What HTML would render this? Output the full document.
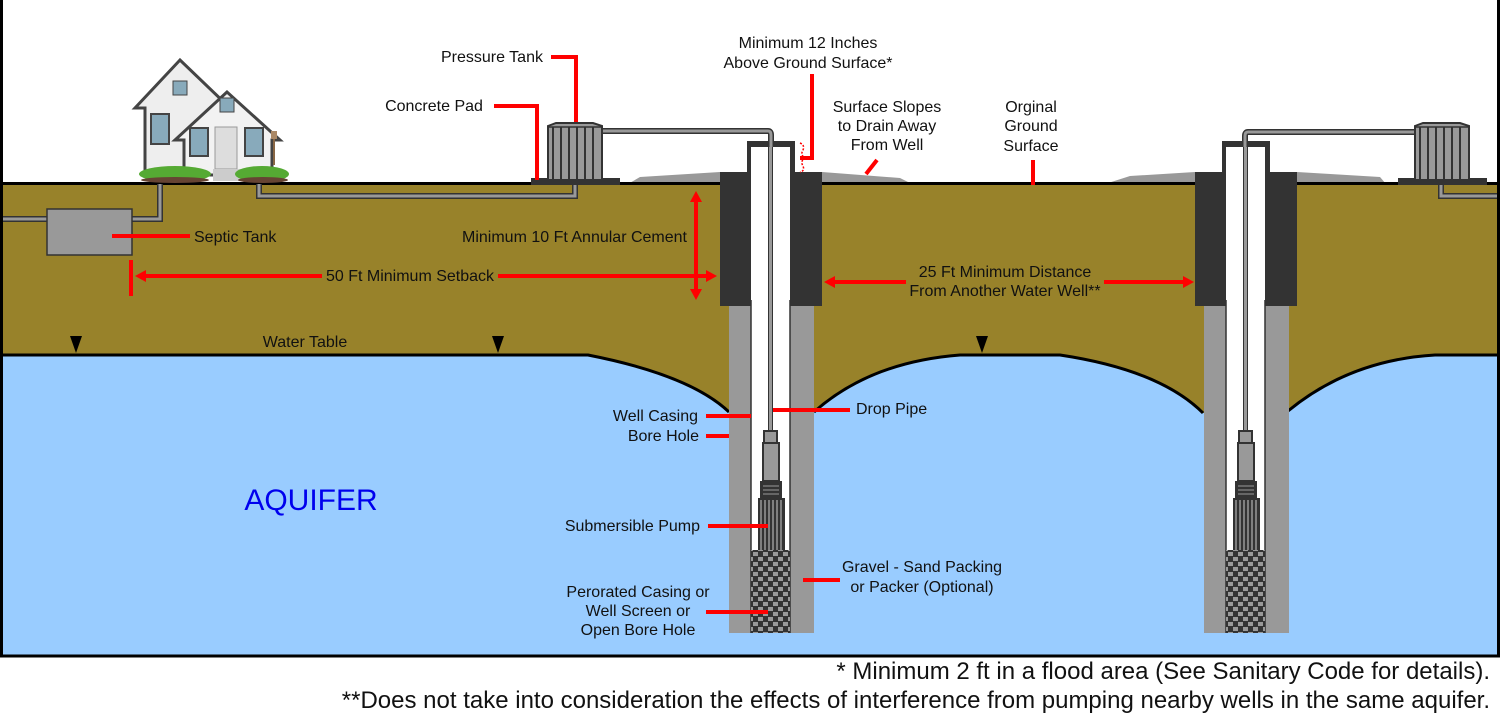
<!DOCTYPE html>
<html><head><meta charset="utf-8"><style>
html,body{margin:0;padding:0;background:#fff}
svg{display:block}
text{font-family:"Liberation Sans",Arial,sans-serif;fill:#111}
</style></head><body>
<svg width="1500" height="720" viewBox="0 0 1500 720" xmlns="http://www.w3.org/2000/svg">
<defs>
<pattern id="grav2" x="751" y="551" width="10" height="10" patternUnits="userSpaceOnUse">
<rect width="10" height="10" fill="#333"/>
<rect x="2" y="1" width="5" height="4" fill="#999"/><rect x="7" y="6" width="3" height="4" fill="#999"/><rect x="0" y="6" width="2" height="4" fill="#999"/>
</pattern>
<g id="well">
<rect x="729" y="300" width="85" height="333" fill="#999"/>
<rect x="720" y="172" width="102" height="134" fill="#333"/>
<rect x="747" y="141" width="48" height="35" fill="#333"/>
<rect x="751" y="147" width="39" height="486" fill="#fff"/>
<line x1="751" y1="300" x2="751" y2="633" stroke="#333" stroke-width="1.5"/>
<line x1="790" y1="300" x2="790" y2="633" stroke="#333" stroke-width="1.5"/>
<rect x="751" y="550" width="39" height="83" fill="url(#grav2)"/>
<rect x="768.5" y="133" width="4" height="300" fill="#999" stroke="#333" stroke-width="1"/>
<rect x="764" y="431" width="13" height="12" fill="#999" stroke="#333" stroke-width="2"/>
<rect x="763" y="443" width="16" height="38" fill="#999" stroke="#333" stroke-width="2"/>
<rect x="760" y="481" width="22" height="18" fill="#333"/>
<line x1="763" y1="486" x2="779" y2="486" stroke="#999"/><line x1="763" y1="490" x2="779" y2="490" stroke="#999"/><line x1="763" y1="494" x2="779" y2="494" stroke="#999"/>
<rect x="758" y="498" width="27" height="52" fill="#333"/>
<g stroke="#999" stroke-width="1.5"><line x1="761" y1="500" x2="761" y2="550"/><line x1="765" y1="500" x2="765" y2="550"/><line x1="769" y1="500" x2="769" y2="550"/><line x1="773" y1="500" x2="773" y2="550"/><line x1="777" y1="500" x2="777" y2="550"/><line x1="781" y1="500" x2="781" y2="550"/></g>
</g>
<g id="tank">
<rect x="531" y="178" width="89" height="7" fill="#333"/>
<path d="M548 126 L556 123 L593 123 L602 126 L602 180 L548 180 Z" fill="#999" stroke="#333" stroke-width="2"/>
<g stroke="#333" stroke-width="2"><line x1="553" y1="127" x2="553" y2="179"/><line x1="561" y1="127" x2="561" y2="179"/><line x1="569" y1="127" x2="569" y2="179"/><line x1="577" y1="127" x2="577" y2="179"/><line x1="585" y1="127" x2="585" y2="179"/><line x1="593" y1="127" x2="593" y2="179"/></g>
<line x1="548" y1="127" x2="602" y2="127" stroke="#333" stroke-width="1.5"/>
</g>
</defs>

<rect x="0" y="184" width="1500" height="473" fill="#98822a"/>
<path d="M0 355 L588 355 Q690 375 729 412 L732 412 L732 657 L0 657 Z" fill="#99ccff"/>
<path d="M811 412 L814 412 Q870 362 960 355 L1060 355 Q1160 370 1203 413 L1207 413 L1207 657 L811 657 Z" fill="#99ccff"/>
<path d="M1285 411 L1288 411 Q1350 360 1435 355 L1500 355 L1500 657 L1285 657 Z" fill="#99ccff"/>
<rect x="0" y="630" width="1500" height="27" fill="#99ccff"/>
<g fill="none" stroke="#000" stroke-width="3">
<path d="M0 355 L588 355 Q690 375 729 412"/>
<path d="M814 412 Q870 362 960 355 L1060 355 Q1160 370 1203 413"/>
<path d="M1288 411 Q1350 360 1435 355 L1500 355"/>
</g>
<path d="M628 184 L640 177 L720 172 L720 184 Z" fill="#999"/>
<path d="M822 172 L900 178 L912 184 L822 184 Z" fill="#999"/>
<path d="M1105 184 L1130 176 L1195 172 L1195 184 Z" fill="#999"/>
<path d="M1297 172 L1380 177 L1386 184 L1297 184 Z" fill="#999"/>
<rect x="0" y="182" width="1500" height="3" fill="#000"/>

<path d="M0 219 L47 219 M131 219 L160 219 L160 184" fill="none" stroke="#333" stroke-width="6"/>
<path d="M0 219 L47 219 M131 219 L160 219 L160 184" fill="none" stroke="#999" stroke-width="3"/>
<path d="M259 184 L259 196 L575 196 L575 184" fill="none" stroke="#333" stroke-width="6"/>
<path d="M259 184 L259 196 L575 196 L575 184" fill="none" stroke="#999" stroke-width="3"/>
<path d="M1441 184 L1441 196 L1500 196" fill="none" stroke="#333" stroke-width="6"/>
<path d="M1441 184 L1441 196 L1500 196" fill="none" stroke="#999" stroke-width="3"/>
<rect x="47" y="209" width="85" height="46" fill="#999" stroke="#333" stroke-width="1.5"/>

<use href="#well"/>
<use href="#well" transform="translate(475,0)"/>
<path d="M602 131 L768 131 Q771 131 771 135 L771 147" fill="none" stroke="#333" stroke-width="6"/>
<path d="M602 131 L768 131 Q771 131 771 135 L771 147" fill="none" stroke="#999" stroke-width="3"/>
<path d="M1415 132 L1248 132 Q1245 132 1245 136 L1245 147" fill="none" stroke="#333" stroke-width="6"/>
<path d="M1415 132 L1248 132 Q1245 132 1245 136 L1245 147" fill="none" stroke="#999" stroke-width="3"/>
<use href="#tank"/>
<use href="#tank" transform="translate(867,0)"/>

<g>
<polygon points="180,60 135,108 145,108 145,175 230,175 230,108" fill="#eee" stroke="#444" stroke-width="3"/>
<polygon points="227,92 175,140 184,140 184,175 272,175 272,140 280,140" fill="#f2f2f2" stroke="#444" stroke-width="3"/>
<rect x="173" y="81" width="14" height="14" fill="#8ab" stroke="#444"/>
<rect x="220" y="98" width="14" height="14" fill="#8ab" stroke="#444"/>
<rect x="151" y="114" width="18" height="30" fill="#8ab" stroke="#444" stroke-width="2"/>
<rect x="190" y="128" width="18" height="28" fill="#8ab" stroke="#444" stroke-width="2"/>
<rect x="245" y="128" width="18" height="28" fill="#8ab" stroke="#444" stroke-width="2"/>
<rect x="215" y="127" width="22" height="42" fill="#ddd" stroke="#999"/>
<rect x="213" y="169" width="28" height="12" fill="#ccc"/>
<line x1="274" y1="132" x2="274" y2="165" stroke="#864" stroke-width="2"/>
<rect x="271" y="131" width="6" height="8" fill="#a86"/>
<ellipse cx="175" cy="174" rx="36" ry="8" fill="#5a3"/>
<ellipse cx="262" cy="174" rx="27" ry="8" fill="#5a3"/>
<ellipse cx="175" cy="180" rx="34" ry="3" fill="#643"/>
<ellipse cx="263" cy="180" rx="25" ry="3" fill="#643"/>
</g>

<g stroke="#f00" stroke-width="4" fill="none">
<path d="M551 57 L576 57 L576 122"/>
<path d="M494 106 L537 106 L537 180"/>
<path d="M812 74 L812 158 L800 158"/>
<line x1="866" y1="174" x2="877" y2="160"/>
<line x1="1033" y1="160" x2="1033" y2="185"/>
<line x1="112" y1="236" x2="190" y2="236"/>
<line x1="131" y1="260" x2="131" y2="296"/>
<line x1="140" y1="276" x2="322" y2="276"/>
<line x1="498" y1="276" x2="706" y2="276"/>
<line x1="696" y1="200" x2="696" y2="290"/>
<line x1="834" y1="282" x2="906" y2="282"/>
<line x1="1104" y1="282" x2="1184" y2="282"/>
<line x1="706" y1="416" x2="751" y2="416"/>
<line x1="706" y1="436" x2="729" y2="436"/>
<line x1="773" y1="410" x2="850" y2="410"/>
<line x1="708" y1="526" x2="768" y2="526"/>
<line x1="803" y1="580" x2="840" y2="580"/>
<line x1="706" y1="612" x2="768" y2="612"/>
</g>
<path d="M800 143 q5 2 3 7 q-3 5 2 8 q-5 3 -2 8 q2 5 -3 6" fill="none" stroke="#f00" stroke-width="1.5" stroke-dasharray="2 1.5"/>
<g fill="#f00">
<polygon points="135,276 146,270 146,282"/>
<polygon points="717,276 706,270 706,282"/>
<polygon points="696,191 690,202 702,202"/>
<polygon points="696,300 690,289 702,289"/>
<polygon points="824,282 835,276 835,288"/>
<polygon points="1194,282 1183,276 1183,288"/>
</g>
<g fill="#000">
<polygon points="70,336 82,336 76,353"/>
<polygon points="492,336 504,336 498,353"/>
<polygon points="976,336 988,336 982,353"/>
</g>

<g font-size="16">
<text x="492" y="62" text-anchor="middle">Pressure Tank</text>
<text x="434" y="111" text-anchor="middle">Concrete Pad</text>
<text x="808" y="48" text-anchor="middle">Minimum 12 Inches</text>
<text x="808" y="68" text-anchor="middle">Above Ground Surface*</text>
<text x="887" y="112" text-anchor="middle">Surface Slopes</text>
<text x="887" y="131" text-anchor="middle">to Drain Away</text>
<text x="887" y="150" text-anchor="middle">From Well</text>
<text x="1031" y="112" text-anchor="middle">Orginal</text>
<text x="1031" y="131" text-anchor="middle">Ground</text>
<text x="1031" y="151" text-anchor="middle">Surface</text>
<text x="194" y="242">Septic Tank</text>
<text x="687" y="242" text-anchor="end">Minimum 10 Ft Annular Cement</text>
<text x="410" y="281" text-anchor="middle">50 Ft Minimum Setback</text>
<text x="1005" y="277" text-anchor="middle">25 Ft Minimum Distance</text>
<text x="1005" y="296" text-anchor="middle">From Another Water Well**</text>
<text x="305" y="347" text-anchor="middle">Water Table</text>
<text x="698" y="421" text-anchor="end">Well Casing</text>
<text x="699" y="441" text-anchor="end">Bore Hole</text>
<text x="856" y="414">Drop Pipe</text>
<text x="700" y="531" text-anchor="end">Submersible Pump</text>
<text x="922" y="572" text-anchor="middle">Gravel - Sand Packing</text>
<text x="922" y="592" text-anchor="middle">or Packer (Optional)</text>
<text x="638" y="597" text-anchor="middle">Perorated Casing or</text>
<text x="638" y="616" text-anchor="middle">Well Screen or</text>
<text x="638" y="635" text-anchor="middle">Open Bore Hole</text>
</g>
<text x="311" y="510" text-anchor="middle" font-size="30" style="fill:#0000ee">AQUIFER</text>

<rect x="1.5" y="-2" width="1497" height="658" fill="none" stroke="#000" stroke-width="3"/>
<text x="1490" y="679" text-anchor="end" font-size="24">* Minimum 2 ft in a flood area (See Sanitary Code for details).</text>
<text x="1490" y="708" text-anchor="end" font-size="24">**Does not take into consideration the effects of interference from pumping nearby wells in the same aquifer.</text>
</svg>
</body></html>
